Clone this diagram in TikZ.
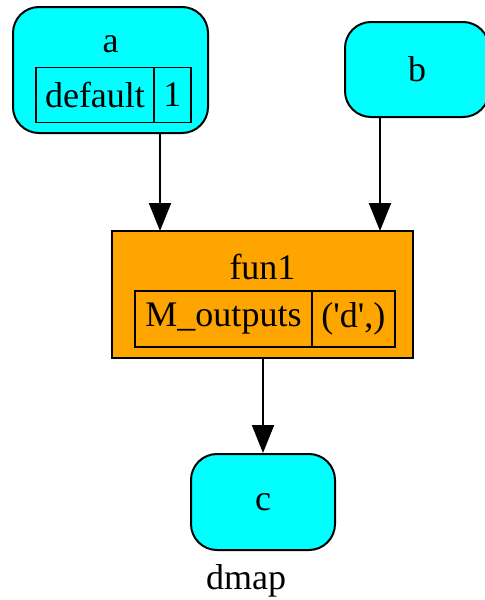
\documentclass[tikz,border=0pt]{standalone}
\usepackage{fontspec}
\setmainfont{Liberation Serif}
\usetikzlibrary{positioning,arrows.meta}
\definecolor{dataclr}{RGB}{0,255,255}
\definecolor{funclr}{RGB}{255,165,0}

\begin{document}
\begin{tikzpicture}[x=0.5pt, y=-0.5pt,
      every node/.style={font=\fontsize{18}{20}\selectfont, inner sep=0pt},
      datanode/.style={draw, line width=1pt, fill=dataclr, rounded corners=13pt},
      funnode/.style={draw, line width=1pt, fill=funclr},
      cell/.style={draw, line width=0.9pt, minimum height=27.5pt},
      edge/.style={-{Triangle[length=14pt, width=11pt]}, line width=1pt}]
    \useasboundingbox (0,0) rectangle (484,600);
    % data nodes
    \node[datanode, minimum width=97.5pt, minimum height=63pt] (a) at (110.5,70) {};
    \node (alab) at (110.5,44.5) {a};
    \node[cell, minimum width=59pt] (adef) at (95,95) {default};
    \node[cell, minimum width=18.4pt, right=-0.9pt of adef] (aval) {1};
    \node[datanode, minimum width=72pt, minimum height=47.5pt] (b) at (417,69.5) {b};
    % function node
    \node[funnode, minimum width=150.5pt, minimum height=63.5pt] (f) at (262.5,294.5) {};
    \node (flab) at (262.5,267) {fun1};
    \node[cell, minimum width=88.5pt, minimum height=28pt] (fout) at (223.5,319) {M\_outputs};
    \node[cell, minimum width=41.4pt, minimum height=28pt, right=-0.9pt of fout] (fval)
      {(\textquotesingle d\textquotesingle,)};
    \node[datanode, minimum width=72pt, minimum height=48pt] (c) at (263,502) {c};
    \node (title) at (246,581) {dmap};
    % ports on fun1
    \coordinate (pa) at (160,231);
    \coordinate (pb) at (380,231);
    \draw[edge] (a.south -| pa) -- (pa);
    \draw[edge] (b.south -| pb) -- (pb);
    \draw[edge] (f.south -| c.north) -- (c.north);
  \end{tikzpicture}
\end{document}
